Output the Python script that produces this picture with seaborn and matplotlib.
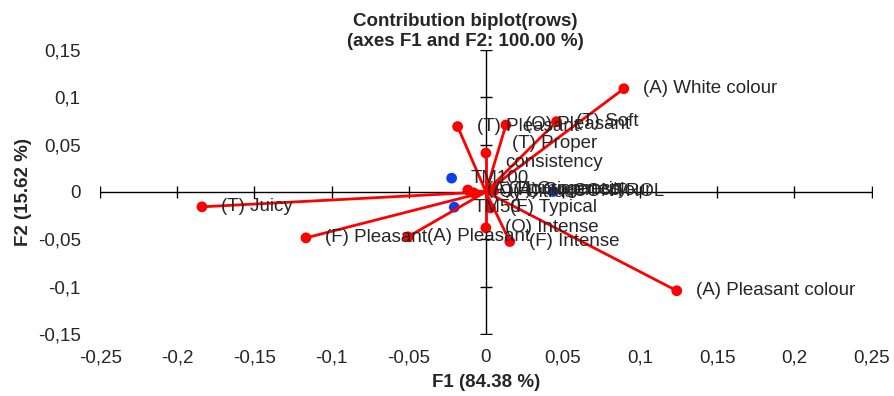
import numpy as np
import pandas as pd
import seaborn as sns
from matplotlib import pyplot as plt

# variables (rojo): coordenadas F1 / F2
var_labels = ["(A) White colour", "(A) Pleasant colour", "(T) Juicy", "(F) Pleasant",
              "(A) Pleasant", "(T) Pleasant", "(O) Pleasant", "(T) Soft",
              "(T) Proper\nconsistency", "(O) Intense", "(F) Intense", "(F) Typical",
              "(A) Homogeneity", "(O) Citrus", "(T) Crispness", "(A) Green colour"]
var_f1 = [0.0894, 0.1237, -0.184, -0.1166, -0.0505, -0.0183, 0.013, 0.0458,
          0.0, 0.0, 0.0155, 0.003, -0.0117, -0.008, 0.002, 0.005]
var_f2 = [0.109, -0.1045, -0.0158, -0.0486, -0.0475, 0.069, 0.0707, 0.0742,
          0.041, -0.038, -0.0525, -0.017, 0.002, -0.001, 0.002, 0.001]

# observaciones (azul)
obs_labels = ["TM100", "TM50", "CONTROL"]
obs_f1 = [-0.0222, -0.0205, 0.0436]
obs_f2 = [0.0145, -0.0162, 0.0003]

xticks = [-0.25, -0.2, -0.15, -0.1, -0.05, 0, 0.05, 0.1, 0.15, 0.2, 0.25]
yticks = [-0.15, -0.1, -0.05, 0, 0.05, 0.1, 0.15]


def coma(v):
    s = f"{v:g}"
    return s.replace(".", ",")


sns.set_style("white")
plt.rcParams["font.family"] = ["Liberation Sans", "DejaVu Sans"]

fig = plt.figure(figsize=(8.94, 3.96), dpi=100)
ax = fig.add_axes([0.112, 0.157, 0.863, 0.717])

# ejes centrales con marcas
ax.axhline(0, color="black", lw=1, zorder=1)
ax.axvline(0, color="black", lw=1, zorder=1)
ax.plot(xticks, np.zeros(len(xticks)), ls="none", marker="|", ms=8, mew=1, color="black", zorder=1)
ax.plot(np.zeros(len(yticks)), yticks, ls="none", marker="_", ms=8, mew=1, color="black", zorder=1)

# observaciones
obs = pd.DataFrame({"F1": obs_f1, "F2": obs_f2, "label": obs_labels})
sns.scatterplot(data=obs, x="F1", y="F2", color="#0d3fe6", s=60, edgecolor="none", ax=ax, zorder=2)

# vectores desde el origen
filas = []
for lab, x, y in zip(var_labels, var_f1, var_f2):
    filas.append({"var": lab, "F1": 0.0, "F2": 0.0, "orden": 0})
    filas.append({"var": lab, "F1": x, "F2": y, "orden": 1})
vec = pd.DataFrame(filas)
sns.lineplot(data=vec, x="F1", y="F2", units="var", estimator=None, sort=False,
             color="red", lw=2, ax=ax, zorder=3)
pts = pd.DataFrame({"F1": var_f1, "F2": var_f2})
sns.scatterplot(data=pts, x="F1", y="F2", color="red", s=60, edgecolor="none", ax=ax, zorder=4)

for lab, x, y in zip(var_labels + obs_labels, var_f1 + obs_f1, var_f2 + obs_f2):
    ax.annotate(lab, (x, y), xytext=(14, 0), textcoords="offset points",
                ha="left", va="center", fontsize=13.5, multialignment="center", zorder=5)

ax.set_xlim(-0.25, 0.25)
ax.set_ylim(-0.15, 0.15)
ax.set_xticks(xticks, [coma(v) for v in xticks])
ax.set_yticks(yticks, [coma(v) for v in yticks])
ax.tick_params(length=0, labelsize=13.5)
ax.tick_params(axis="y", pad=14)
ax.tick_params(axis="x", pad=11)
for s in ax.spines.values():
    s.set_visible(False)

ax.set_xlabel("F1 (84.38 %)", fontsize=13.5, fontweight="bold", labelpad=6)
ax.set_ylabel("F2 (15.62 %)", fontsize=13.5, fontweight="bold", labelpad=4)

fig.text(0.52, 0.92, "Contribution biplot(rows)\n(axes F1 and F2: 100.00 %)",
         ha="center", va="center", fontsize=13.5, fontweight="bold")

plt.savefig("out.png", dpi=100)
